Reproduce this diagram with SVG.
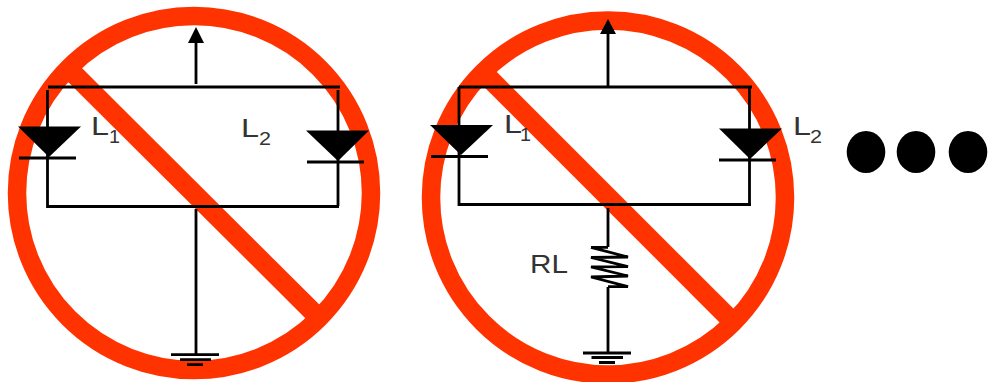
<svg xmlns="http://www.w3.org/2000/svg" width="990" height="382" viewBox="0 0 990 382">
<style>
.ring{fill:none;stroke:#ff3300;stroke-width:18.5}
.slash{fill:none;stroke:#ff3300;stroke-width:19.5}
.w{fill:none;stroke:#000;stroke-width:2.8}
.g{fill:none;stroke:#000;stroke-width:2.8}
.solid{fill:#000;stroke:none}
text{font-family:"Liberation Sans",Arial,sans-serif;fill:#333}
.big{font-size:25.5px}
.sub{font-size:18px}
</style>
<rect width="990" height="382" fill="#fff"/>
<g id="prohibit-1"><circle class="ring" cx="194" cy="193" r="177"/><line class="slash" x1="68" y1="68" x2="319" y2="318"/></g>
<g id="prohibit-2"><circle class="ring" cx="608" cy="197.500" r="177"/><line class="slash" x1="483" y1="72" x2="733" y2="322"/></g>
<g id="connectors">
<path class="w" d="M48 87H340M47.500 90V206.500H339M338 90V206M196 84V40M196 209V355"/>
<path class="w" d="M459 87H752M459 87V204.500H751M749.500 87V204.500M608 87V30M608 208V247M608 287V353"/>
<path class="w" stroke-linejoin="bevel" d="M591 247.300H608M591 247.300L628 257 591 257.500 628 266.700 591 266.900 628 276 591 277 628 286.700H608"/>
</g>
<g id="arrow-1"><polygon class="solid" points="196,27 204,43 188,43"/></g>
<g id="arrow-2"><polygon class="solid" points="608,19 616,34 600,34"/></g>
<g id="diode-1-l"><polygon class="solid" points="18,126.500 81,126.500 49,157"/><line class="w" x1="19" y1="158" x2="76" y2="158"/></g>
<g id="diode-1-r"><polygon class="solid" points="306,130.500 369,130.500 338,161"/><line class="w" x1="307" y1="162" x2="364" y2="162"/></g>
<g id="diode-2-l"><polygon class="solid" points="430,125 493,125 461,155"/><line class="w" x1="431" y1="156.500" x2="488" y2="156.500"/></g>
<g id="diode-2-r"><polygon class="solid" points="719,128.500 782,128.500 750,159"/><line class="w" x1="719" y1="160" x2="776" y2="160"/></g>
<g id="ground-1"><path class="g" d="M171 354.700H219M180 359.700H211M187 364.700H203"/></g>
<g id="ground-2"><path class="g" d="M583 353H631M591.500 357.500H623M599 362.500H615"/></g>
<g id="labels">
<text class="big" x="91" y="135" textLength="18" lengthAdjust="spacingAndGlyphs">L</text><text class="sub" x="109" y="143" textLength="11" lengthAdjust="spacingAndGlyphs">1</text>
<text class="big" x="241" y="137" textLength="18" lengthAdjust="spacingAndGlyphs">L</text><text class="sub" x="259" y="145" textLength="12" lengthAdjust="spacingAndGlyphs">2</text>
<text class="big" x="504" y="132.500" textLength="18" lengthAdjust="spacingAndGlyphs">L</text><text class="sub" x="520" y="141" textLength="11" lengthAdjust="spacingAndGlyphs">1</text>
<text class="big" x="793" y="134.500" textLength="18" lengthAdjust="spacingAndGlyphs">L</text><text class="sub" x="810" y="143" textLength="12" lengthAdjust="spacingAndGlyphs">2</text>
<text class="big" x="530" y="272.500" textLength="38" lengthAdjust="spacingAndGlyphs">RL</text>
</g>
<g id="dots"><ellipse class="solid" cx="866" cy="152" rx="19.300" ry="21"/><ellipse class="solid" cx="916" cy="152" rx="19.300" ry="21"/><ellipse class="solid" cx="968" cy="152" rx="19.300" ry="21"/></g>
</svg>
